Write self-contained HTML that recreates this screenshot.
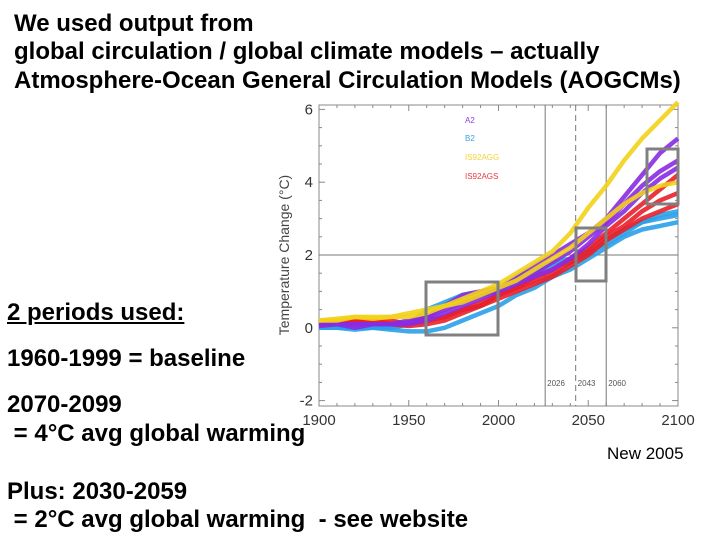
<!DOCTYPE html>
<html><head><meta charset="utf-8"><style>
body{margin:0;width:720px;height:540px;background:#fff;overflow:hidden;position:relative;font-family:"Liberation Sans",Arial,sans-serif}
.t{position:absolute;font-weight:bold;font-size:24px;color:#000;white-space:pre;line-height:1}
svg{position:absolute;left:0;top:0}
</style></head><body>
<svg id="chart" width="720" height="540"></svg>
<div class="t" style="left:14px;top:12px">We used output from</div>
<div class="t" style="left:14px;top:40px">global circulation / global climate models – actually</div>
<div class="t" style="left:14px;top:69px">Atmosphere-Ocean General Circulation Models (AOGCMs)</div>
<div class="t" style="left:7px;top:301px;text-decoration:underline">2 periods used:</div>
<div class="t" style="left:7px;top:347px">1960-1999 = baseline</div>
<div class="t" style="left:7px;top:393px">2070-2099</div>
<div class="t" style="left:7px;top:422px"> = 4°C avg global warming</div>
<div class="t" style="left:7px;top:480px">Plus: 2030-2059</div>
<div class="t" style="left:7px;top:508px"> = 2°C avg global warming  - see website</div>
<div style="position:absolute;left:607px;top:444px;font-size:17px">New 2005</div>
<script>
const years=[1900,1910,1920,1930,1940,1950,1960,1970,1980,1990,2000,2010,2020,2030,2040,2050,2060,2070,2080,2090,2100];
const xTicks=[1900,1950,2000,2050,2100];
const yTicks=[-2,0,2,4,6];
const vLines=[2026,2043,2060];
const a2Series=[
[0.1,0.1,0.1,0.1,0.1,0.15,0.3,0.6,0.9,1.0,1.1,1.4,1.7,2.0,2.3,2.6,3.0,3.6,4.2,4.8,5.2],
[0.05,0.1,0.1,0.1,0.1,0.2,0.3,0.5,0.7,0.9,1.1,1.3,1.5,1.8,2.1,2.5,2.9,3.4,3.9,4.3,4.6],
[0.1,0.1,0.0,0.1,0.1,0.1,0.2,0.4,0.6,0.8,1.0,1.2,1.4,1.6,1.9,2.3,2.8,3.2,3.7,4.1,4.4]];
const b2Series=[
[0.0,0.0,-0.05,0.0,-0.05,-0.1,-0.1,0.0,0.2,0.4,0.6,0.9,1.1,1.4,1.6,1.9,2.2,2.5,2.7,2.8,2.9],
[0.0,0.0,0.0,0.0,0.0,0.1,0.5,0.7,0.9,1.0,1.0,1.4,1.6,1.8,1.9,2.1,2.3,2.6,2.9,3.1,3.2],
[0.05,0.0,0.0,0.05,0.0,0.1,0.3,0.6,0.8,0.9,1.0,1.2,1.5,1.7,1.8,2.0,2.4,2.7,2.9,3.0,3.1]];
const aggSeries=[
[0.2,0.25,0.3,0.3,0.3,0.4,0.5,0.6,0.8,1.0,1.2,1.5,1.8,2.1,2.6,3.3,3.9,4.6,5.2,5.7,6.2],
[0.2,0.2,0.3,0.25,0.3,0.3,0.4,0.6,0.7,0.9,1.1,1.3,1.6,1.9,2.2,2.6,3.0,3.4,3.7,3.9,4.0]];
const agsSeries=[
[0.2,0.2,0.2,0.15,0.2,0.1,0.2,0.3,0.5,0.7,0.9,1.1,1.4,1.6,1.9,2.2,2.6,3.0,3.4,3.8,4.2],
[0.1,0.15,0.1,0.1,0.1,0.05,0.1,0.2,0.4,0.6,0.8,1.0,1.2,1.4,1.7,2.0,2.4,2.7,3.0,3.2,3.4],
[0.15,0.2,0.15,0.2,0.1,0.1,0.2,0.3,0.5,0.6,0.9,1.1,1.3,1.5,1.8,2.1,2.5,2.8,3.2,3.5,3.7]];
const NS='http://www.w3.org/2000/svg';
const svg=document.getElementById('chart');
const X0=319,X1=678,Y0=105,Y1=406;
function sx(v){return X0+(v-1900)*(X1-X0)/200;}
function sy(v){return 255-(v-2)*36.4;}
function mk(tag,attrs,parent){const e=document.createElementNS(NS,tag);for(const k in attrs)e.setAttribute(k,attrs[k]);(parent||svg).appendChild(e);return e;}
const frame=mk('rect',{x:X0,y:Y0,width:X1-X0,height:Y1-Y0,fill:'#fff',stroke:'#888','stroke-width':1});


for(let y=1900;y<=2100;y+=10){const t=mk('line',{x1:sx(y),x2:sx(y),y1:Y1,y2:Y1-(y%50?3:6),stroke:'#888'});
const t2=mk('line',{x1:sx(y),x2:sx(y),y1:Y0,y2:Y0+(y%50?3:6),stroke:'#888'});}
for(let v=-2;v<=6;v+=0.5){const t=mk('line',{x1:X0,x2:X0+(v%2?3:6),y1:sy(v),y2:sy(v),stroke:'#888'});
const t2=mk('line',{x1:X1,x2:X1-(v%2?3:6),y1:sy(v),y2:sy(v),stroke:'#888'});}
const h2=mk('line',{x1:X0,x2:X1,y1:sy(2),y2:sy(2),stroke:'#777'});

vLines.forEach((v,i)=>{const l=mk('line',{x1:sx(v),x2:sx(v),y1:Y0,y2:Y1,stroke:'#777','stroke-dasharray':i==1?'6,4':'none'});

const tx=mk('text',{x:sx(v)+2,y:386,'font-size':8,fill:'#555','font-family':'Liberation Sans'});tx.textContent=v;
});
xTicks.forEach(v=>{const t=mk('text',{x:sx(v),y:425,'text-anchor':'middle','font-size':15,fill:'#333','font-family':'Liberation Sans'});t.textContent=v;
});
yTicks.forEach(v=>{const t=mk('text',{x:313,y:sy(v)+5,'text-anchor':'end','font-size':15,fill:'#333','font-family':'Liberation Sans'});t.textContent=v;
});
const yt=mk('text',{x:289,y:255,transform:'rotate(-90 289 255)','text-anchor':'middle','font-size':14,fill:'#444','font-family':'Liberation Sans'});
yt.textContent='Temperature Change (°C)';

const g=mk('g',{});
function draw(series,color,name){series.forEach((s,i)=>{const d=s.map((v,j)=>(j?'L':'M')+sx(years[j]).toFixed(1)+','+sy(v).toFixed(1)).join('');
const p=mk('path',{d:d,fill:'none',stroke:color,'stroke-width':4.5,'stroke-linejoin':'round','stroke-opacity':0.9},g);
});}
draw(b2Series,'#2aa0e8','b2');draw(agsSeries,'#e8202a','is92ags');draw(a2Series,'#8a2be2','a2');draw(aggSeries,'#f2d21a','is92agg');
const leg=[['A2','#8a3de0',120],['B2','#3aa0e0',138],['IS92AGG','#f2d23a',157],['IS92AGS','#e83a3a',176]];
leg.forEach(l=>{const t=mk('text',{x:465,y:l[2]+3,'font-size':8,fill:l[1],'font-family':'Liberation Sans'});t.textContent=l[0];
});
[[426,282,498,335],[576,228,606,281],[647,149,678,204]].forEach((b,i)=>{const r=mk('rect',{x:b[0],y:b[1],width:b[2]-b[0],height:b[3]-b[1],fill:'none',stroke:'#808080','stroke-width':3});
});
</script>
</body></html>
